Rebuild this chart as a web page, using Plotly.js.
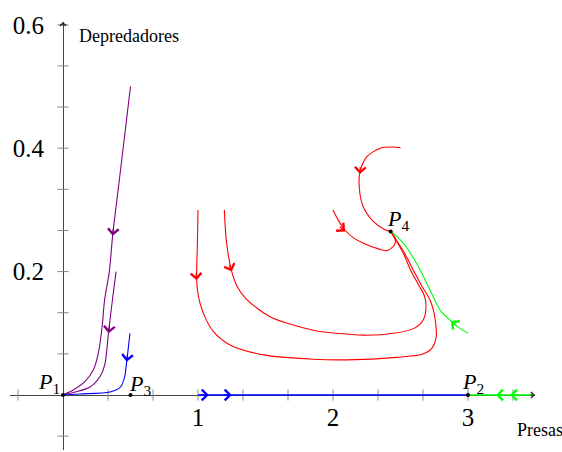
<!DOCTYPE html>
<html><head><meta charset="utf-8">
<script src="https://cdn.plot.ly/plotly-3.0.1.min.js"></script>
<style>html,body{margin:0;padding:0;background:#fff}#chart{width:562px;height:452px}</style>
</head><body><div id="chart"></div>
<script>
// ---- trajectories ----
const purpleLongX  = [0.5, 0.417, 0.368, 0.343, 0.308, 0.29, 0.262, 0.225, 0.163, 0.076, 0];
const purpleLongY  = [0.5, 0.348, 0.259, 0.2, 0.154, 0.111, 0.068, 0.041, 0.022, 0.008, 0];
const purpleShortX = [0.393, 0.366, 0.338, 0.311, 0.274, 0.2, 0.076, 0];
const purpleShortY = [0.2, 0.154, 0.103, 0.051, 0.03, 0.013, 0.004, 0];
const blueP3X = [0.496, 0.483, 0.472, 0.459, 0.44, 0.422, 0.348, 0.126, 0];
const blueP3Y = [0.1, 0.075, 0.054, 0.032, 0.018, 0.012, 0.005, 0.0016, 0];
const blueAxisX = [1, 3];
const blueAxisY = [0, 0];
const greenAxisX = [3.48, 3];
const greenAxisY = [0, 0];
const redAX = [2.5, 2.44, 2.348, 2.25, 2.2, 2.195, 2.224, 2.3, 2.385, 2.427];
const redAY = [0.401, 0.402, 0.4, 0.386, 0.362, 0.335, 0.305, 0.281, 0.268, 0.265];
const redBX = [2.0, 2.04, 2.089, 2.15, 2.225, 2.348, 2.4, 2.455, 2.46, 2.427];
const redBY = [0.3, 0.283, 0.267, 0.255, 0.246, 0.236, 0.234, 0.243, 0.254, 0.265];
const redCX = [1.0, 0.995, 0.99, 0.998, 1.016, 1.05, 1.113, 1.237, 1.484, 1.854, 2.1, 2.472, 2.66, 2.73, 2.765, 2.757, 2.743, 2.719, 2.66, 2.6, 2.53, 2.427];
const redCY = [0.3, 0.24, 0.189, 0.167, 0.148, 0.127, 0.103, 0.081, 0.065, 0.058, 0.057, 0.061, 0.066, 0.075, 0.095, 0.122, 0.138, 0.154, 0.176, 0.2, 0.23, 0.265];
const redDX = [1.195, 1.21, 1.25, 1.29, 1.36, 1.533, 1.854, 2.225, 2.45, 2.6, 2.669, 2.689, 2.675, 2.64, 2.58, 2.52, 2.427];
const redDY = [0.3, 0.25, 0.2, 0.176, 0.155, 0.127, 0.105, 0.097, 0.1, 0.108, 0.122, 0.145, 0.162, 0.176, 0.2, 0.23, 0.265];
const greenX = [3.0, 2.94, 2.879, 2.793, 2.719, 2.62, 2.521, 2.447, 2.427];
const greenY = [0.1, 0.108, 0.119, 0.138, 0.17, 0.213, 0.246, 0.262, 0.265];

// equilibria
const eqX = [0, 3, 0.5, 2.427];
const eqY = [0, 0, 0, 0.265];
const eqText = ['<i>P</i><sub>1</sub>', '<i>P</i><sub>2</sub>', '<i>P</i><sub>3</sub>', '<i>P</i><sub>4</sub>'];

// direction arrows: trajectory name, tip position
const arrowTraj = ['purpleLong', 'purpleShort', 'blueP3', 'redA', 'redB', 'redC', 'redD', 'blueAxis', 'blueAxis', 'greenAxis', 'greenAxis', 'green'];
const arrowX = [0.368, 0.338, 0.472, 2.2, 2.089, 0.99, 1.25, 1.08, 1.25, 3.207, 3.311, 2.874];
const arrowY = [0.258, 0.1, 0.054, 0.358, 0.265, 0.186, 0.2, 0, 0, 0, 0, 0.12];

// ticks
const xTickVals = [1, 2, 3];
const xTickText = ['1', '2', '3'];
const yTickVals = [0.2, 0.4, 0.6];
const yTickText = ['0.2', '0.4', '0.6'];
const xMinorTicks = [-1/3, 1/3, 2/3, 1, 4/3, 5/3, 2, 7/3, 8/3, 3, 10/3];
const yMinorTicks = [-0.2/3, 0.2/3, 0.4/3, 0.2, 0.8/3, 1/3, 0.4, 1.4/3, 1.6/3, 0.6];

// ---- layout geometry ----
const W = 562, H = 452;
const xDomPx = [10, 535], yDomPx = [450, 22];
const xRange = [-0.392593, 3.496296];
const yRange = [-0.089141, 0.604538];
const sx = (xDomPx[1] - xDomPx[0]) / (xRange[1] - xRange[0]);
const sy = (yDomPx[0] - yDomPx[1]) / (yRange[1] - yRange[0]);

const trajs = {
  purpleLong: [purpleLongX, purpleLongY, '#800080'],
  purpleShort: [purpleShortX, purpleShortY, '#800080'],
  blueP3: [blueP3X, blueP3Y, '#0000ff'],
  blueAxis: [blueAxisX, blueAxisY, '#0000ff'],
  greenAxis: [greenAxisX, greenAxisY, '#00ff00'],
  redA: [redAX, redAY, '#ff0000'],
  redB: [redBX, redBY, '#ff0000'],
  redC: [redCX, redCY, '#ff0000'],
  redD: [redDX, redDY, '#ff0000'],
  green: [greenX, greenY, '#00ff00']
};

const serif = 'Liberation Serif, Times New Roman, serif';
const traces = [];
traces.push({x: xMinorTicks, y: xMinorTicks.map(() => 0), mode: 'markers', hoverinfo: 'skip',
  marker: {symbol: 'line-ns', size: 8, line: {width: 1, color: '#8a8a8a'}}});
traces.push({x: yMinorTicks.map(() => 0), y: yMinorTicks, mode: 'markers', hoverinfo: 'skip',
  marker: {symbol: 'line-ew', size: 8, line: {width: 1, color: '#8a8a8a'}}});
for (const k in trajs) {
  const t = trajs[k];
  const straight = t[0].length === 2;
  traces.push({x: t[0], y: t[1], mode: 'lines', hoverinfo: 'skip',
    line: {color: t[2], width: straight ? 1.6 : 1.1, shape: straight ? 'linear' : 'spline', smoothing: 0.8}});
}
traces.push({x: eqX, y: eqY, mode: 'markers', hoverinfo: 'skip', marker: {color: '#000', size: 4}});

// ---- annotations ----
const annotations = [];
function arrowAnn(tx, ty, dxPx, dyPx, color, len, width, size) {
  const n = Math.hypot(dxPx, dyPx) || 1;
  return {x: tx, y: ty, xref: 'x', yref: 'y', text: ' ', showarrow: true,
    ax: -dxPx / n * len, ay: -dyPx / n * len, arrowhead: 4, arrowsize: size, arrowwidth: width,
    arrowcolor: color, standoff: 0, startstandoff: 0, font: {size: 1}};
}
for (let i = 0; i < arrowTraj.length; i++) {
  const t = trajs[arrowTraj[i]];
  const xs = t[0], ys = t[1];
  let best = 0, bd = Infinity;
  for (let j = 0; j < xs.length - 1; j++) {
    const mx = (xs[j] + xs[j + 1]) / 2, my = (ys[j] + ys[j + 1]) / 2;
    const d = Math.hypot((mx - arrowX[i]) * sx, (my - arrowY[i]) * sy);
    if (d < bd) { bd = d; best = j; }
  }
  const dxPx = (xs[best + 1] - xs[best]) * sx;
  const dyPx = -(ys[best + 1] - ys[best]) * sy;
  annotations.push(arrowAnn(arrowX[i], arrowY[i], dxPx, dyPx, t[2], 9, 1.3, 1.6));
}
// axis arrowheads
annotations.push(arrowAnn(xRange[1], 0, 1, 0, '#222', 6, 1, 1.2));
annotations.push(arrowAnn(0, yRange[1], 0, -1, '#222', 6, 1, 1.2));

// point labels
const labelAnchor = [['right', -1], ['left', -8], ['left', -4], ['left', -6]];
const labelYShift = [-4, -4, -6, -5];
for (let i = 0; i < eqX.length; i++) {
  annotations.push({x: eqX[i], y: eqY[i], xref: 'x', yref: 'y', text: eqText[i], showarrow: false,
    xanchor: labelAnchor[i][0], xshift: labelAnchor[i][1], yanchor: 'bottom', yshift: labelYShift[i],
    font: {family: serif, size: 22, color: '#000'}});
}
// axis titles
annotations.push({x: 0.104, y: 0.582, xref: 'x', yref: 'y', text: 'Depredadores', showarrow: false,
  xanchor: 'left', yanchor: 'middle', font: {family: serif, size: 18, color: '#000'}});
annotations.push({x: 3.348, y: -0.0567, xref: 'x', yref: 'y', text: 'Presas', showarrow: false,
  xanchor: 'left', yanchor: 'middle', font: {family: serif, size: 18, color: '#000'}});

const layout = {
  width: W, height: H, margin: {l: 0, r: 0, t: 0, b: 0},
  paper_bgcolor: '#fff', plot_bgcolor: 'rgba(0,0,0,0)', showlegend: false,
  xaxis: {domain: [xDomPx[0] / W, xDomPx[1] / W], range: xRange, anchor: 'free', position: (H - 395) / H,
    showline: true, linecolor: '#444', linewidth: 1, showgrid: false, zeroline: false, ticks: '',
    tickmode: 'array', tickvals: xTickVals, ticktext: xTickText, layer: 'below traces',
    tickfont: {family: serif, size: 25, color: '#000'}, ticklabelstandoff: 0, fixedrange: true},
  yaxis: {domain: [(H - yDomPx[0]) / H, (H - yDomPx[1]) / H], range: yRange, anchor: 'free', position: 63 / W,
    showline: true, linecolor: '#444', linewidth: 1, showgrid: false, zeroline: false, ticks: '',
    tickmode: 'array', tickvals: yTickVals, ticktext: yTickText, layer: 'below traces',
    tickfont: {family: serif, size: 25, color: '#000'}, ticklabelstandoff: 14, fixedrange: true},
  annotations: annotations
};
Plotly.newPlot('chart', traces, layout, {staticPlot: true, displayModeBar: false});
</script>
</body></html>
